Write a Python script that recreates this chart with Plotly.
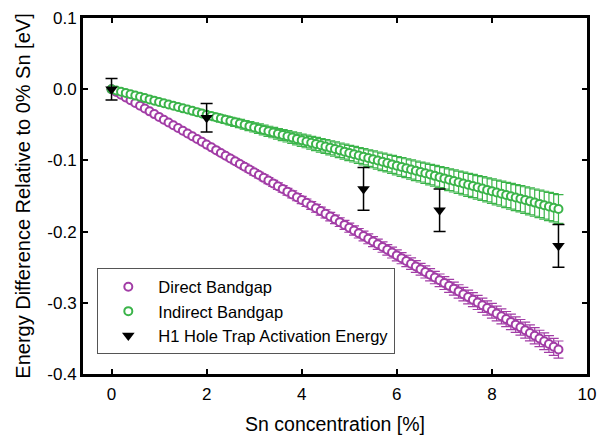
import plotly.graph_objects as go

# Sn concentration grid (%) for the band-gap calculations
sn_pct = [
    0.0, 0.1, 0.2, 0.3, 0.4, 0.5, 0.6, 0.7, 0.8, 0.9,
    1.0, 1.1, 1.2, 1.3, 1.4, 1.5, 1.6, 1.7, 1.8, 1.9,
    2.0, 2.1, 2.2, 2.3, 2.4, 2.5, 2.6, 2.7, 2.8, 2.9,
    3.0, 3.1, 3.2, 3.3, 3.4, 3.5, 3.6, 3.7, 3.8, 3.9,
    4.0, 4.1, 4.2, 4.3, 4.4, 4.5, 4.6, 4.7, 4.8, 4.9,
    5.0, 5.1, 5.2, 5.3, 5.4, 5.5, 5.6, 5.7, 5.8, 5.9,
    6.0, 6.1, 6.2, 6.3, 6.4, 6.5, 6.6, 6.7, 6.8, 6.9,
    7.0, 7.1, 7.2, 7.3, 7.4, 7.5, 7.6, 7.7, 7.8, 7.9,
    8.0, 8.1, 8.2, 8.3, 8.4, 8.5, 8.6, 8.7, 8.8, 8.9,
    9.0, 9.1, 9.2, 9.3, 9.4,
]

# Direct band-gap shift (eV)
direct_gap = [
    0.0, -0.0039, -0.0078, -0.0117, -0.0156, -0.0195, -0.0233, -0.0272, -0.0311, -0.0350,
    -0.0389, -0.0428, -0.0467, -0.0506, -0.0545, -0.0584, -0.0622, -0.0661, -0.0700, -0.0739,
    -0.0778, -0.0817, -0.0856, -0.0895, -0.0934, -0.0973, -0.1011, -0.1050, -0.1089, -0.1128,
    -0.1167, -0.1206, -0.1245, -0.1284, -0.1323, -0.1362, -0.1400, -0.1439, -0.1478, -0.1517,
    -0.1556, -0.1595, -0.1634, -0.1673, -0.1712, -0.1751, -0.1789, -0.1828, -0.1867, -0.1906,
    -0.1945, -0.1984, -0.2023, -0.2062, -0.2101, -0.2140, -0.2178, -0.2217, -0.2256, -0.2295,
    -0.2334, -0.2373, -0.2412, -0.2451, -0.2490, -0.2529, -0.2567, -0.2606, -0.2645, -0.2684,
    -0.2723, -0.2762, -0.2801, -0.2840, -0.2879, -0.2918, -0.2956, -0.2995, -0.3034, -0.3073,
    -0.3112, -0.3151, -0.3190, -0.3229, -0.3268, -0.3307, -0.3345, -0.3384, -0.3423, -0.3462,
    -0.3501, -0.3540, -0.3579, -0.3618, -0.3657,
]

# Indirect band-gap shift (eV)
indirect_gap = [
    0.0, -0.0018, -0.0036, -0.0054, -0.0072, -0.0090, -0.0107, -0.0125, -0.0143, -0.0161,
    -0.0179, -0.0197, -0.0215, -0.0233, -0.0251, -0.0269, -0.0286, -0.0304, -0.0322, -0.0340,
    -0.0358, -0.0376, -0.0394, -0.0412, -0.0430, -0.0448, -0.0465, -0.0483, -0.0501, -0.0519,
    -0.0537, -0.0555, -0.0573, -0.0591, -0.0609, -0.0627, -0.0644, -0.0662, -0.0680, -0.0698,
    -0.0716, -0.0734, -0.0752, -0.0770, -0.0788, -0.0806, -0.0823, -0.0841, -0.0859, -0.0877,
    -0.0895, -0.0913, -0.0931, -0.0949, -0.0967, -0.0985, -0.1002, -0.1020, -0.1038, -0.1056,
    -0.1074, -0.1092, -0.1110, -0.1128, -0.1146, -0.1164, -0.1181, -0.1199, -0.1217, -0.1235,
    -0.1253, -0.1271, -0.1289, -0.1307, -0.1325, -0.1343, -0.1360, -0.1378, -0.1396, -0.1414,
    -0.1432, -0.1450, -0.1468, -0.1486, -0.1504, -0.1522, -0.1539, -0.1557, -0.1575, -0.1593,
    -0.1611, -0.1629, -0.1647, -0.1665, -0.1683,
]

# Relative uncertainties of the band-gap curves (% of value)
direct_err_pct = 3.3
indirect_err_pct = 12

# H1 hole trap activation energies (DLTS)
h1_sn = [0.0, 2.0, 5.3, 6.9, 9.4]
h1_energy = [0.0, -0.04, -0.14, -0.17, -0.22]
h1_err = [0.015, 0.02, 0.03, 0.03, 0.03]

x_ticks = [0, 2, 4, 6, 8, 10]
y_ticks = [0.1, 0.0, -0.1, -0.2, -0.3, -0.4]
y_tick_text = ["0.1", "0.0", "-0.1", "-0.2", "-0.3", "-0.4"]

PURPLE = "#A23DA6"
GREEN = "#3BB44A"
FONT = "Liberation Sans, Arial, sans-serif"

fig = go.Figure()

fig.add_trace(go.Scatter(
    x=sn_pct, y=direct_gap, mode="markers", name="Direct Bandgap",
    marker=dict(symbol="circle", size=8, color="white",
                line=dict(color=PURPLE, width=2)),
    error_y=dict(type="percent", value=direct_err_pct, color=PURPLE,
                 thickness=1.2, width=5),
))

fig.add_trace(go.Scatter(
    x=sn_pct, y=indirect_gap, mode="markers", name="Indirect Bandgap",
    marker=dict(symbol="circle", size=8, color="white",
                line=dict(color=GREEN, width=2)),
    error_y=dict(type="percent", value=indirect_err_pct, color=GREEN,
                 thickness=1.2, width=5),
))

fig.add_trace(go.Scatter(
    x=h1_sn, y=h1_energy, mode="markers", name="H1 Hole Trap Activation Energy",
    marker=dict(symbol="triangle-down", size=11, color="black"),
    error_y=dict(type="data", array=h1_err, color="black",
                 thickness=1.5, width=6),
))

axis_common = dict(
    showline=True, linecolor="black", linewidth=3, mirror="ticks",
    ticks="inside", ticklen=5, tickwidth=2, tickcolor="black",
    showgrid=False, zeroline=False,
    tickfont=dict(family=FONT, size=17, color="black"),
)

fig.update_layout(
    width=605, height=442,
    margin=dict(l=83, r=9, t=14, b=68),
    paper_bgcolor="white", plot_bgcolor="white",
    font=dict(family=FONT, color="black"),
    showlegend=True,
    legend=dict(
        x=0.028, y=0.297, xanchor="left", yanchor="top",
        bgcolor="white", bordercolor="#555555", borderwidth=1.2,
        font=dict(family=FONT, size=16.5, color="black"),
        tracegroupgap=0, itemwidth=50,
    ),
    xaxis=dict(
        range=[-0.6, 10], tickvals=x_ticks, ticklabelstandoff=3,
        title=dict(text="Sn concentration [%]", font=dict(family=FONT, size=19.5),
                   standoff=14),
        **axis_common,
    ),
    yaxis=dict(
        range=[-0.4, 0.1], tickvals=y_ticks, ticktext=y_tick_text,
        title=dict(text="Energy Difference Relative to 0% Sn [eV]",
                   font=dict(family=FONT, size=20), standoff=12),
        **axis_common,
    ),
)

fig.write_html("out.html")
